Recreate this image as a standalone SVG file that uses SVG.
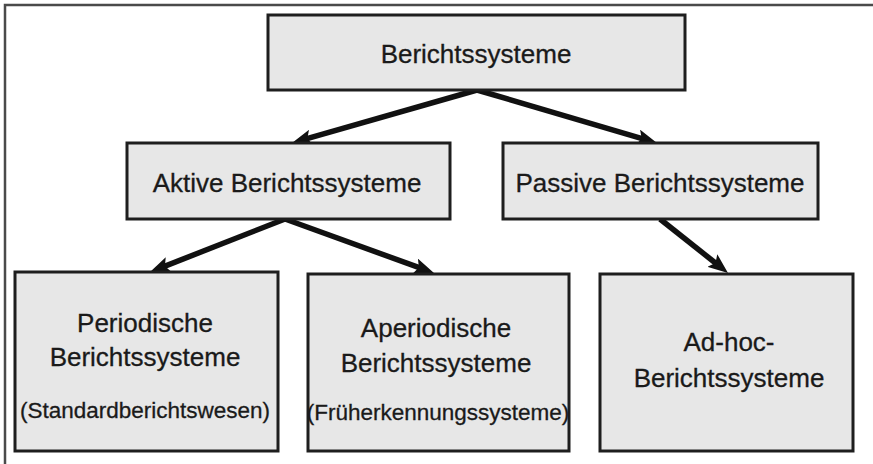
<svg xmlns="http://www.w3.org/2000/svg" width="873" height="464" viewBox="0 0 873 464">
  <style>
    .box { fill: #e7e7e7; stroke: #1e1e1e; stroke-width: 3; }
    .t { font-family: "Liberation Sans", Arial, sans-serif; font-size: 26px; fill: #1a1a1a; stroke: #1a1a1a; stroke-width: 0.3; text-anchor: middle; }
    .s { font-size: 22.5px; }
    .edge { stroke: #111; stroke-width: 5.5; fill: none; marker-end: url(#arrow); }
  </style>
  <defs>
    <marker id="arrow" markerUnits="userSpaceOnUse" viewBox="0 0 20 16" markerWidth="20" markerHeight="16" refX="8" refY="8" orient="auto">
      <path d="M0,0 L20,8 L0,16 L4,8 z" fill="#111"/>
    </marker>
  </defs>
  <rect x="0" y="0" width="873" height="464" fill="#ffffff"/>
  <path d="M5,464 L5,5 L873,5" fill="none" stroke="#4a4a4a" stroke-width="2.5"/>

  <g id="connectors">
    <line class="edge" x1="477" y1="90" x2="303.5" y2="139.7"/>
    <line class="edge" x1="477" y1="90" x2="645.5" y2="139.6"/>
    <line class="edge" x1="285" y1="219" x2="161.2" y2="267.6"/>
    <line class="edge" x1="285" y1="219" x2="422.7" y2="268.9"/>
    <line class="edge" x1="660" y1="219" x2="718.6" y2="265.5"/>
  </g>

  <g id="berichtssysteme">
    <rect class="box" x="268" y="15" width="417" height="75"/>
    <text class="t" x="476" y="63">Berichtssysteme</text>
  </g>
  <g id="aktive">
    <rect class="box" x="127" y="143" width="323" height="76"/>
    <text class="t" x="287" y="192">Aktive Berichtssysteme</text>
  </g>
  <g id="passive">
    <rect class="box" x="503" y="143" width="315" height="76"/>
    <text class="t" x="660" y="192">Passive Berichtssysteme</text>
  </g>
  <g id="periodische">
    <rect class="box" x="15" y="272" width="263" height="179"/>
    <text class="t" x="145" y="332">Periodische</text>
    <text class="t" x="145" y="366">Berichtssysteme</text>
    <text class="t s" x="145" y="418">(Standardberichtswesen)</text>
  </g>
  <g id="aperiodische">
    <rect class="box" x="308" y="274" width="261" height="177"/>
    <text class="t" x="436" y="337">Aperiodische</text>
    <text class="t" x="436" y="372">Berichtssysteme</text>
    <text class="t s" x="438" y="420">(Früherkennungssysteme)</text>
  </g>
  <g id="adhoc">
    <rect class="box" x="600" y="274" width="253" height="177"/>
    <text class="t" x="729" y="351">Ad-hoc-</text>
    <text class="t" x="729" y="387">Berichtssysteme</text>
  </g>
</svg>
